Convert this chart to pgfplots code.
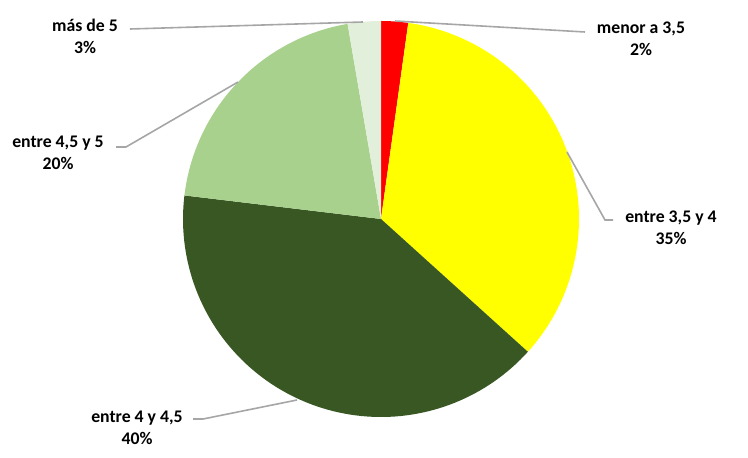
\documentclass[border=0pt]{standalone}
\usepackage{pgfplots}
\pgfplotsset{compat=1.18}
\usepackage{fontspec}
\setmainfont{Carlito}
\definecolor{cRed}{HTML}{FF0000}
\definecolor{cYellow}{HTML}{FFFF00}
\definecolor{cDark}{HTML}{385723}
\definecolor{cLight}{HTML}{A9D18E}
\definecolor{cPale}{HTML}{E2EFDA}
\definecolor{cLine}{HTML}{A6A6A6}
% shares (percent): menor a 3,5 = 2.2 ; entre 3,5 y 4 = 34.5 ; entre 4 y 4,5 = 40.2 ; entre 4,5 y 5 = 20.4 ; mas de 5 = 2.7
\begin{document}
\begin{tikzpicture}
\begin{axis}[
  scale only axis, width=561pt, height=342.75pt,
  xmin=0, xmax=748, ymin=0, ymax=457,
  hide axis, clip=false,
]
\addplot[draw=none] coordinates {(0,0) (748,457)};
% wedges: angle = 90 - 3.6*cumulative percent
\addplot[fill=cRed, draw=none, domain={90-3.6*0}:{90-3.6*2.2}, samples=10, variable=\t]
  ({381+198*cos(\t)},{238+198*sin(\t)}) -- (axis cs:381,238) -- cycle;
\addplot[fill=cYellow, draw=none, domain={90-3.6*2.2}:{90-3.6*36.7}, samples=80, variable=\t]
  ({381+198*cos(\t)},{238+198*sin(\t)}) -- (axis cs:381,238) -- cycle;
\addplot[fill=cDark, draw=none, domain={90-3.6*36.7}:{90-3.6*76.9}, samples=90, variable=\t]
  ({381+198*cos(\t)},{238+198*sin(\t)}) -- (axis cs:381,238) -- cycle;
\addplot[fill=cLight, draw=none, domain={90-3.6*76.9}:{90-3.6*97.3}, samples=50, variable=\t]
  ({381+198*cos(\t)},{238+198*sin(\t)}) -- (axis cs:381,238) -- cycle;
\addplot[fill=cPale, draw=none, domain={90-3.6*97.3}:{90-3.6*100}, samples=10, variable=\t]
  ({381+198*cos(\t)},{238+198*sin(\t)}) -- (axis cs:381,238) -- cycle;
% leader lines
\addplot[cLine, line width=1.2pt] coordinates {(130,428) (363,435)};
\addplot[cLine, line width=1.2pt] coordinates {(395,436) (585,425)};
\addplot[cLine, line width=1.2pt] coordinates {(567,305) (605,237) (613,237)};
\addplot[cLine, line width=1.2pt] coordinates {(116,310) (126,310) (238,375)};
\addplot[cLine, line width=1.2pt] coordinates {(193,38) (203,38) (297,57)};
% labels
\begin{scope}[every node/.style={align=center, font=\bfseries\fontsize{13.3}{16.5}\selectfont, inner sep=0pt}]
\node at (axis cs:85,421) {más de 5\\3\%};
\node at (axis cs:641,418) {menor a 3,5\\2\%};
\node at (axis cs:671,229) {entre 3,5 y 4\\35\%};
\node at (axis cs:58,304) {entre 4,5 y 5\\20\%};
\node at (axis cs:137,29.5) {entre 4 y 4,5\\40\%};
\end{scope}
\end{axis}
\end{tikzpicture}
\end{document}
